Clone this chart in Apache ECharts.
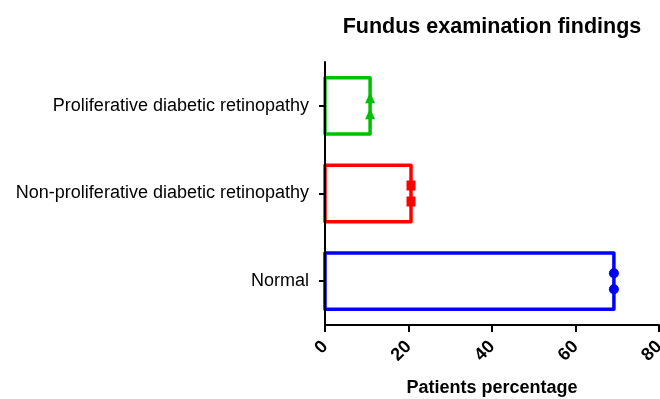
<!DOCTYPE html>
<html><head><meta charset="utf-8">
<script src="https://cdn.jsdelivr.net/npm/echarts@6/dist/echarts.min.js"></script>
<style>html,body{margin:0;padding:0;background:#fff}#c{width:660px;height:399px}</style>
</head><body><div id="c"></div>
<script>
var categories = ['Normal', 'Non-proliferative diabetic retinopathy', 'Proliferative diabetic retinopathy'];
var values = [69.2, 20.6, 10.8];
var pointsA = [69.2, 20.6, 10.8];
var pointsB = [69.2, 20.6, 10.8];
var colors = ['#0000ff', '#ff0000', '#00c000'];
var symbols = ['circle', 'rect', 'triangle'];
var xTicks = [0, 20, 40, 60, 80];

var chart = echarts.init(document.getElementById('c'));
var font = 'Liberation Sans, Arial, sans-serif';
var series = [{
  type: 'custom',
  data: values.map(function (v, i) { return [v, i]; }),
  encode: { x: 0, y: 1 },
  silent: true,
  z: 2,
  renderItem: function (params, api) {
    var v = api.value(0), c = api.value(1);
    var p0 = api.coord([0, c]);
    var p1 = api.coord([v, c]);
    var h = api.size([0, 1])[1] * 0.643;
    return {
      type: 'rect',
      shape: { x: p0[0], y: p0[1] - h / 2, width: p1[0] - p0[0], height: h },
      style: { fill: 'none', stroke: colors[params.dataIndex], lineWidth: 3.5, lineJoin: 'round' }
    };
  }
}];
[[pointsA, -8], [pointsB, 8]].forEach(function (p) {
  series.push({
    type: 'scatter',
    data: p[0].map(function (v, i) {
      return { value: [v, categories[i]], symbol: symbols[i], itemStyle: { color: colors[i], opacity: 1 } };
    }),
    symbolSize: function (v, params) { return params.dataIndex === 1 ? [9, 10] : (params.dataIndex === 2 ? [10, 11] : 10); },
    symbolOffset: [0, p[1]],
    z: 5
  });
});
chart.setOption({
  animation: false,
  title: { text: 'Fundus examination findings', left: 487, top: 11, textAlign: 'center',
    textStyle: { fontFamily: font, fontSize: 21.5, fontWeight: 'bold', color: '#000' } },
  grid: { left: 325, right: 1, top: 62, bottom: 74, outerBoundsMode: 'none', containLabel: false },
  xAxis: {
    type: 'value', min: 0, max: 80, interval: 20,
    axisLine: { show: true, lineStyle: { color: '#000', width: 2 } },
    axisTick: { show: true, length: 7, lineStyle: { color: '#000', width: 2 } },
    splitLine: { show: false },
    axisLabel: { rotate: 45, margin: 19, fontFamily: font, fontSize: 18, fontWeight: 'bold', color: '#000',
      formatter: function (v) { return xTicks.indexOf(v) >= 0 ? String(v) : ''; } },
    name: 'Patients percentage', nameLocation: 'middle', nameGap: 54,
    nameTextStyle: { fontFamily: font, fontSize: 18, fontWeight: 'bold', color: '#000' }
  },
  yAxis: {
    type: 'category', data: categories, z: 10,
    axisLine: { show: true, lineStyle: { color: '#000', width: 2 } },
    axisTick: { show: true, alignWithLabel: true, length: 6, lineStyle: { color: '#000', width: 2 } },
    axisLabel: { margin: 16, fontFamily: font, fontSize: 18, color: '#000' }
  },
  series: series
});
</script></body></html>
